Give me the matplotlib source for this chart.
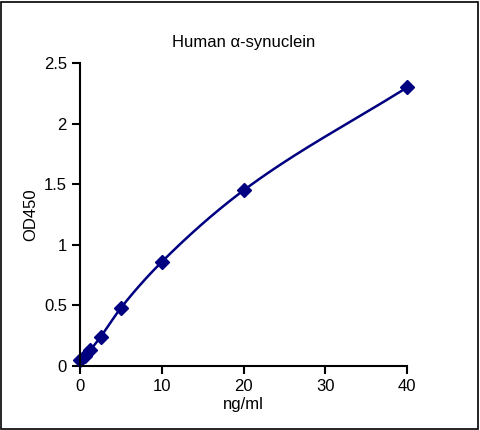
import numpy as np
import matplotlib
matplotlib.use("Agg")
import matplotlib.pyplot as plt
from matplotlib.patches import Rectangle

plt.rcParams['font.family'] = ['Liberation Sans', 'DejaVu Sans']

conc = [0, 0.625, 1.25, 2.5, 5, 10, 20, 40]
od = [0.05, 0.08, 0.13, 0.24, 0.48, 0.86, 1.45, 2.30]

def pchip(x, y, xs):
    x = np.asarray(x, float); y = np.asarray(y, float)
    h = np.diff(x); d = np.diff(y) / h
    m = np.zeros_like(y)
    for k in range(1, len(x) - 1):
        if d[k-1] * d[k] > 0:
            w1 = 2*h[k] + h[k-1]; w2 = h[k] + 2*h[k-1]
            m[k] = (w1 + w2) / (w1/d[k-1] + w2/d[k])
    m[0] = d[0]; m[-1] = d[-1]
    i = np.clip(np.searchsorted(x, xs) - 1, 0, len(h) - 1)
    t = (xs - x[i]) / h[i]
    h00 = 2*t**3 - 3*t**2 + 1; h10 = t**3 - 2*t**2 + t
    h01 = -2*t**3 + 3*t**2; h11 = t**3 - t**2
    return h00*y[i] + h10*h[i]*m[i] + h01*y[i+1] + h11*h[i]*m[i+1]

fig = plt.figure(figsize=(4.8, 4.3), dpi=100)
fig.patches.append(Rectangle((0.002, 0.002), 0.994, 0.994, transform=fig.transFigure,
                             fill=False, edgecolor='black', linewidth=1.2))
ax = fig.add_axes([0.167, 0.149, 0.681, 0.704])
xs = np.linspace(0, 40, 400)
ax.plot(xs, pchip(conc, od, xs), color='#000080', lw=1.8, clip_on=False)
ax.plot(conc, od, 'D', color='#000080', ms=7, clip_on=False)
ax.set_xlim(0, 40); ax.set_ylim(0, 2.5)
ax.set_xticks([0, 10, 20, 30, 40])
ax.set_yticks([0, 0.5, 1, 1.5, 2, 2.5])
ax.set_yticklabels(['0', '0.5', '1', '1.5', '2', '2.5'])
for s in ['top', 'right']:
    ax.spines[s].set_visible(False)
for s in ['left', 'bottom']:
    ax.spines[s].set_linewidth(1.5)
ax.tick_params(direction='out', width=1.5, length=6, labelsize=12)
ax.set_xlabel('ng/ml', fontsize=12, labelpad=2)
ax.set_ylabel('OD450', fontsize=12)
ax.set_title('Human α-synuclein', fontsize=12, pad=12)
fig.savefig('out.png', dpi=100)
